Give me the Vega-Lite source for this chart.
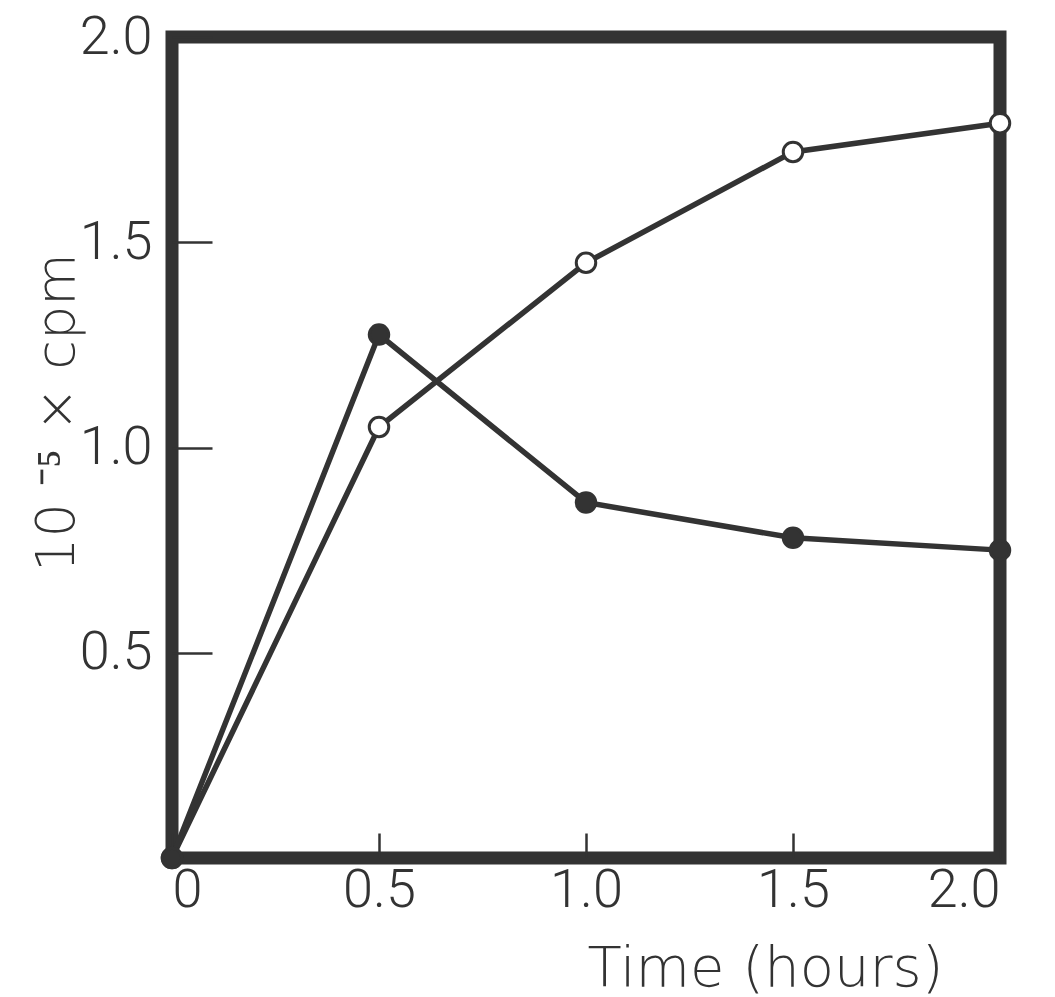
{
  "$schema": "https://vega.github.io/schema/vega-lite/v6.json",
  "autosize": "none",
  "width": 828,
  "height": 821,
  "padding": {"left": 172, "top": 37, "right": 55, "bottom": 139},
  "background": "white",
  "config": {
    "view": {"stroke": "#333", "strokeWidth": 13},
    "axis": {
      "domain": false,
      "grid": false,
      "labelFont": "Roboto",
      "labelFontWeight": 300,
      "labelFontSize": 54,
      "labelColor": "#333",
      "titleFont": "DejaVu Sans",
      "titleFontWeight": 200,
      "titleColor": "#333",
      "tickColor": "#333",
      "tickWidth": 2.5
    }
  },
  "data": {
    "values": [
      {"time": 0, "cpm": 0, "series": "open"},
      {"time": 0.5, "cpm": 1.05, "series": "open"},
      {"time": 1.0, "cpm": 1.45, "series": "open"},
      {"time": 1.5, "cpm": 1.72, "series": "open"},
      {"time": 2.0, "cpm": 1.79, "series": "open"},
      {"time": 0, "cpm": 0, "series": "filled"},
      {"time": 0.5, "cpm": 1.275, "series": "filled"},
      {"time": 1.0, "cpm": 0.866, "series": "filled"},
      {"time": 1.5, "cpm": 0.78, "series": "filled"},
      {"time": 2.0, "cpm": 0.75, "series": "filled"}
    ]
  },
  "encoding": {
    "x": {
      "field": "time",
      "type": "quantitative",
      "scale": {"domain": [0, 2], "nice": false},
      "axis": {
        "values": [0, 0.5, 1, 1.5, 2],
        "tickSize": -25,
        "labelPadding": 30,
        "labelExpr": "datum.value == 0 ? '0' : format(datum.value, '.1f')",
        "title": "Time   (hours)",
        "titleFontSize": 56,
        "titleX": 593,
        "titleY": 127,
        "titleBaseline": "alphabetic"
      }
    },
    "y": {
      "field": "cpm",
      "type": "quantitative",
      "scale": {"domain": [0, 2], "nice": false},
      "axis": {
        "values": [0.5, 1, 1.5, 2],
        "tickSize": -40,
        "labelPadding": 60,
        "labelExpr": "format(datum.value, '.1f')",
        "title": "10 ⁻⁵  ×  cpm",
        "titleFontSize": 54,
        "titleY": 375,
        "titleX": -88,
        "titleAnchor": "middle"
      }
    }
  },
  "layer": [
    {
      "mark": {"type": "line", "color": "#333", "strokeWidth": 5.5},
      "encoding": {"detail": {"field": "series"}}
    },
    {
      "mark": {"type": "point", "filled": true, "size": 380, "stroke": "#333", "strokeWidth": 3, "opacity": 1},
      "encoding": {
        "fill": {
          "field": "series",
          "type": "nominal",
          "scale": {"domain": ["filled", "open"], "range": ["#333", "white"]},
          "legend": null
        }
      }
    }
  ]
}
